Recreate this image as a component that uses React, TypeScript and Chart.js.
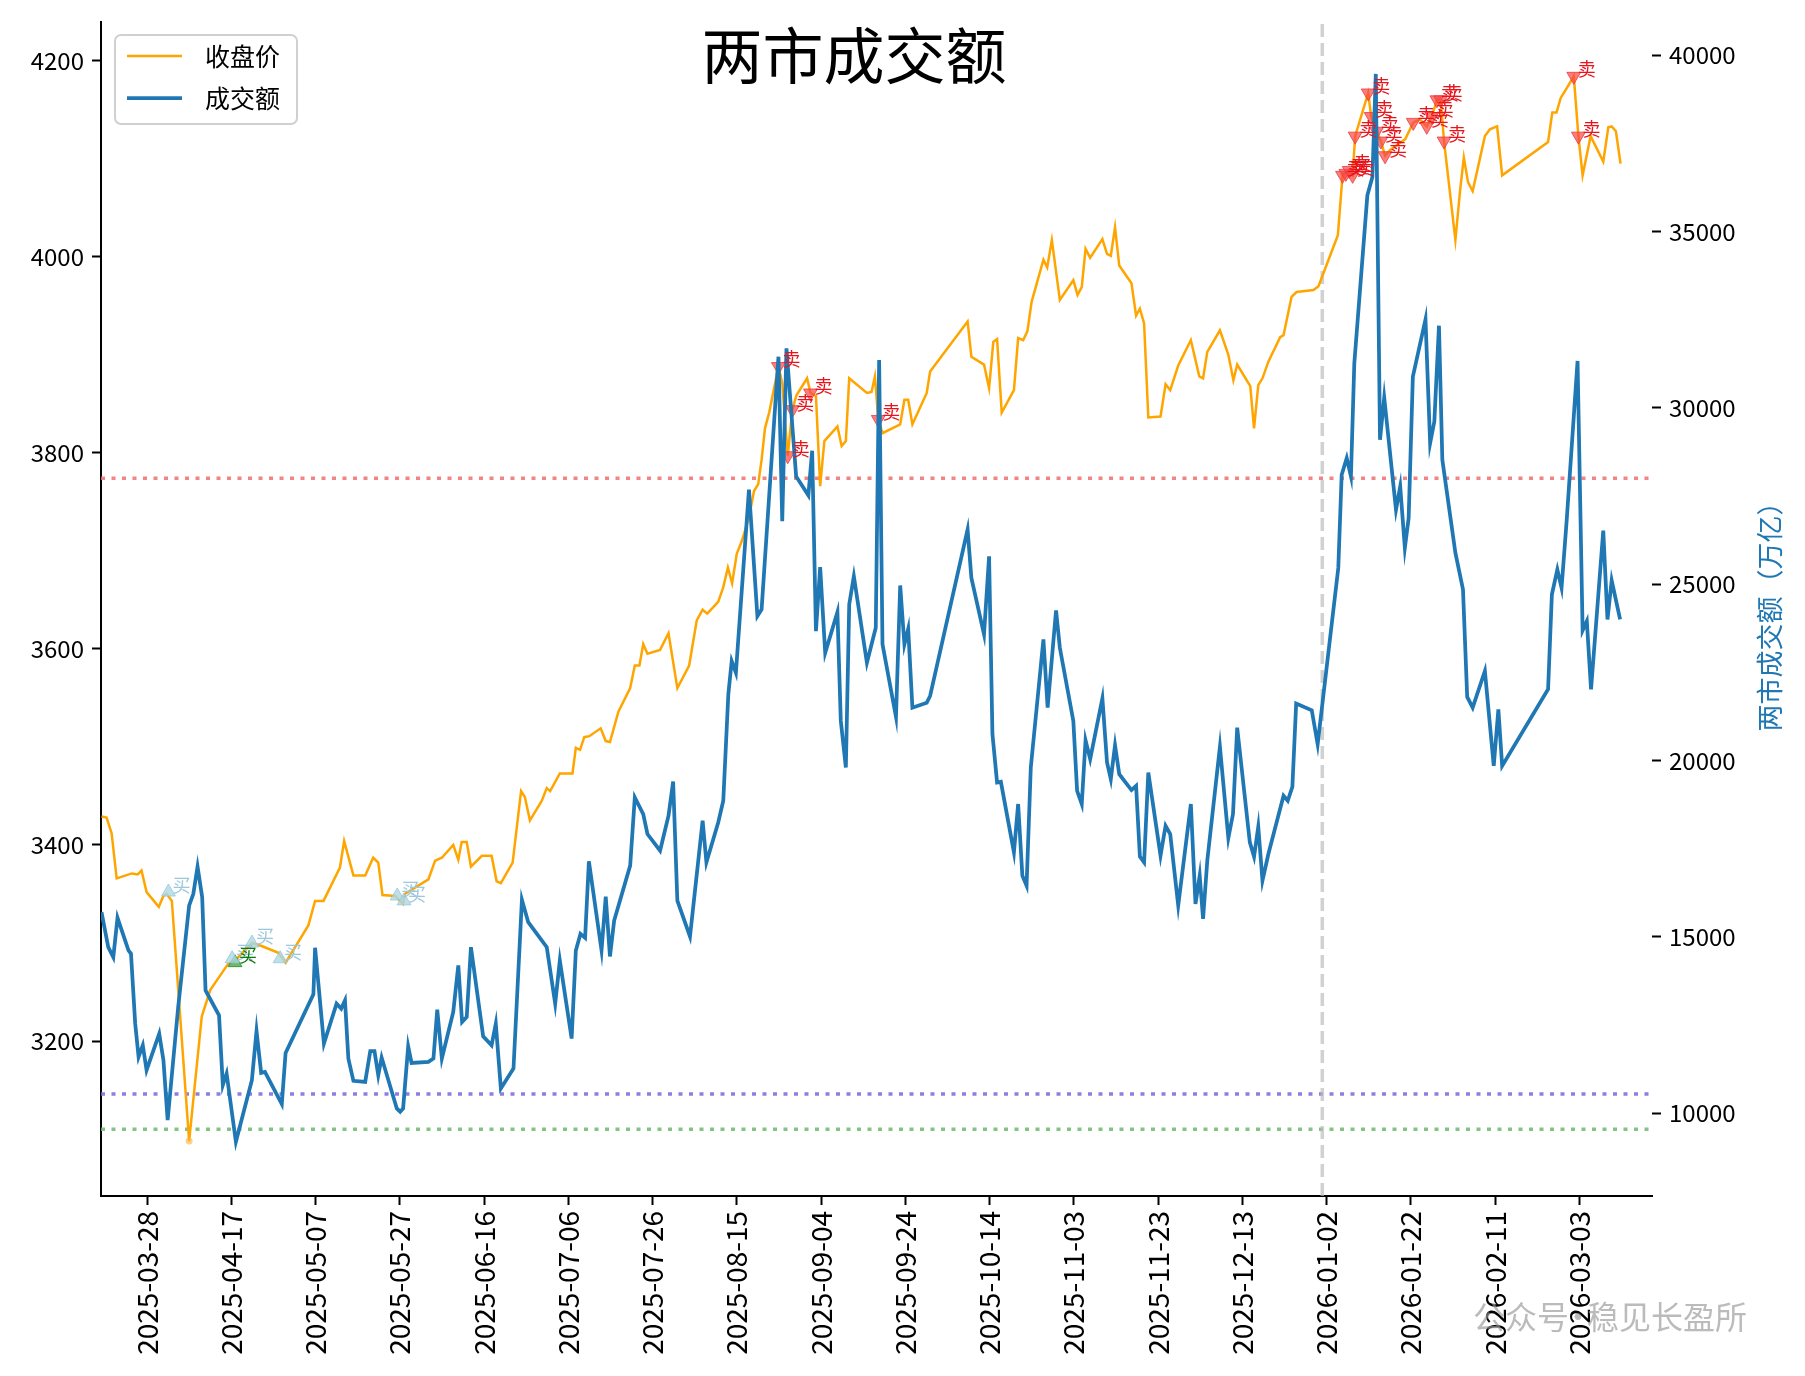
import React, { useEffect, useRef } from "react";
import { Chart, registerables } from "chart.js";

Chart.register(...registerables);

const FONT = '"Noto Sans CJK SC", "Noto Sans", sans-serif';

// x values are day offsets counted from 2025-01-01
const xTickDays = [86, 106, 126, 146, 166, 186, 206, 226, 246, 266, 286, 306, 326, 346, 366, 386, 406, 426];
const leftTicks = [3200, 3400, 3600, 3800, 4000, 4200];
const rightTicks = [10000, 15000, 20000, 25000, 30000, 35000, 40000];

const priceDays = [
  75.2, 76.4, 77.6, 78.8, 82.4, 83.8, 84.7, 85.9, 88.8, 89.9, 90.7, 91.9, 96.0, 99.0, 101.0, 102.9,
  105.3, 106.9, 110.9, 113.2, 117.2, 118.9, 124.3, 125.9, 127.9, 131.8, 132.8, 135.0, 137.8, 139.7,
  140.9, 141.9, 144.9, 146.8, 147.2, 152.8, 154.4, 156.0, 158.7, 159.9, 160.7, 161.9, 162.9, 165.5,
  167.8, 169.0, 170.0, 172.8, 174.8, 175.7, 176.9, 179.7, 180.9, 181.7, 184.0, 187.0, 187.8, 188.8,
  189.8, 191.0, 193.7, 194.9, 195.9, 197.9, 200.7, 201.8, 202.9, 203.8, 204.8, 207.8, 209.8, 211.9,
  214.7, 216.5, 217.9, 219.0, 221.6, 222.8, 223.9, 224.9, 226.0, 227.2, 228.9, 230.1, 231.1, 231.9,
  232.7, 233.7, 235.9, 236.8, 238.1, 239.2, 240.2, 242.7, 243.5, 244.8, 245.8, 246.8, 249.9, 250.9,
  251.9, 252.7, 256.9, 258.0, 258.8, 259.6, 260.6, 264.8, 265.8, 266.7, 267.7, 271.1, 271.9, 280.8,
  281.7, 284.7, 285.9, 286.9, 287.8, 288.9, 291.8, 292.8, 294.0, 295.0, 296.0, 298.8, 299.7, 300.8,
  302.7, 305.9, 306.9, 307.9, 308.8, 309.9, 312.8, 313.9, 314.8, 315.8, 316.8, 319.7, 320.8, 321.7,
  322.7, 323.7, 326.6, 327.8, 328.9, 330.8, 333.8, 335.8, 336.7, 337.7, 340.7, 342.7, 343.9, 344.8,
  347.9, 348.8, 349.8, 350.8, 352.2, 355.0, 355.8, 357.7, 358.9, 362.9, 364.1, 368.7, 369.8, 371.2,
  372.2, 372.8, 375.9, 376.6, 377.9, 378.9, 379.9, 381.1, 383.1, 384.7, 386.6, 388.2, 389.8, 391.0,
  392.2, 393.1, 393.9, 396.6, 397.7, 398.6, 399.6, 400.7, 403.6, 404.8, 406.5, 407.7, 418.6, 419.6,
  420.6, 421.6, 422.6, 424.7, 425.8, 426.8, 428.7, 431.7, 432.9, 433.7, 434.7, 435.8,
];
const priceVals = [
  3429, 3428, 3412, 3366, 3371, 3370, 3374, 3352, 3337, 3348, 3350, 3343, 3098, 3225, 3252, 3264,
  3279, 3282, 3300, 3297, 3290, 3280, 3318, 3343, 3343, 3377, 3404, 3369, 3369, 3387,
  3382, 3349, 3348, 3340, 3350, 3365, 3384, 3387, 3400, 3385, 3403, 3403, 3378, 3389,
  3389, 3363, 3361, 3382, 3455, 3449, 3425, 3445, 3458, 3455, 3473, 3473, 3499, 3497,
  3510, 3511, 3519, 3506, 3505, 3536, 3560, 3583, 3583, 3605, 3595, 3599, 3616, 3560,
  3583, 3629, 3640, 3636, 3648, 3663, 3683, 3667, 3697, 3710, 3734, 3761, 3768, 3793,
  3825, 3841, 3888, 3871, 3797, 3844, 3859, 3876, 3861, 3858, 3766, 3812, 3827, 3807,
  3812, 3876, 3861, 3862, 3878, 3834, 3820, 3829, 3854, 3854, 3829, 3861, 3883, 3934,
  3898, 3890, 3866, 3913, 3916, 3841, 3864, 3917, 3915, 3924, 3954, 3997, 3989, 4017,
  3956, 3976, 3961, 3969, 4008, 3999, 4018, 4003, 4001, 4030, 3991, 3973, 3940, 3947,
  3932, 3836, 3837, 3870, 3864, 3889, 3915, 3878, 3876, 3903, 3925, 3900, 3874, 3890,
  3868, 3825, 3869, 3876, 3893, 3918, 3920, 3959, 3964, 3966, 3970, 4022, 4083, 4088,
  4083, 4123, 4167, 4143, 4128, 4118, 4103, 4109, 4115, 4120, 4137, 4140, 4133, 4143,
  4160, 4160, 4118, 4017, 4067, 4101, 4076, 4067, 4123, 4130, 4133, 4083, 4117, 4147,
  4147, 4162, 4169, 4184, 4123, 4083, 4123, 4097, 4132, 4133, 4128, 4095,
];

const volumeDays = [
  75.2, 76.8, 78.0, 79.0, 81.6, 82.2, 83.2, 84.0, 85.0, 85.9, 88.9, 89.9, 90.9, 93.4, 96.0, 97.0,
  98.0, 99.1, 99.9, 103.1, 104.0, 104.9, 107.1, 110.9, 112.0, 113.1, 114.0, 118.0, 118.9, 125.5,
  125.9, 128.0, 131.0, 132.1, 133.0, 133.8, 135.0, 137.8, 139.0, 140.0, 140.9, 141.7, 145.3, 146.1,
  146.8, 148.0, 148.8, 152.8, 154.0, 154.9, 156.0, 158.7, 159.9, 160.8, 161.9, 162.9, 165.8, 167.8,
  168.8, 170.0, 173.0, 175.0, 176.5, 180.9, 182.9, 184.0, 186.8, 187.8, 188.9, 190.0, 190.9, 193.9,
  194.9, 195.9, 196.9, 200.7, 201.8, 203.8, 204.8, 207.8, 209.8, 210.9, 211.9, 214.9, 217.9, 218.8,
  221.6, 222.8, 224.0, 224.8, 225.8, 228.9, 230.9, 231.9, 235.9, 236.8, 237.8, 240.1, 243.0, 243.9,
  244.8, 245.8, 247.0, 249.9, 250.7, 251.9, 252.7, 253.8, 256.9, 259.0, 259.8, 260.6, 263.8, 264.8,
  265.8, 266.7, 267.7, 271.1, 271.9, 280.8, 281.7, 284.7, 285.9, 286.7, 287.8, 288.7, 291.8, 292.8,
  293.8, 294.8, 295.8, 298.8, 299.8, 301.8, 302.7, 305.9, 306.8, 307.9, 308.8, 309.9, 312.8, 313.9,
  314.8, 315.8, 316.8, 319.7, 320.8, 321.7, 322.7, 323.7, 326.6, 327.8, 328.9, 330.8, 333.8, 334.9,
  335.9, 336.7, 337.7, 340.7, 342.7, 343.8, 344.8, 347.8, 348.8, 349.8, 350.8, 352.2, 355.8, 356.8,
  357.9, 358.8, 362.5, 363.9, 368.8, 369.6, 370.8, 371.8, 372.6, 375.7, 376.9, 377.7, 378.7, 379.7,
  382.5, 383.5, 384.6, 385.5, 386.5, 389.5, 390.6, 391.6, 392.7, 393.5, 396.6, 398.4, 399.4, 400.7,
  403.6, 405.7, 406.8, 407.7, 418.6, 419.5, 420.8, 421.8, 423.0, 425.6, 426.8, 427.8, 428.8, 431.7,
  432.7, 433.7, 435.7,
];
const volumeVals = [
  15697, 14706, 14423, 15538, 14613, 14519, 12538, 11593, 11924, 11217, 12255, 11500, 9802, 13008, 15886, 16217,
  16990, 16121, 13481, 12773, 10792, 11123, 9188, 10934, 12330, 11142, 11170, 10255, 11707, 13368,
  14689, 11972, 13104, 12963, 13198, 11548, 10915, 10886, 11755, 11755, 11075, 11576, 10133, 10037,
  10133, 11896, 11424, 11452, 11548, 12935, 11548, 12869, 14188, 12584, 12725, 14706, 12179, 11924,
  12538, 10699, 11265, 16048, 15414, 14706, 13104, 14330, 12114, 14613, 15086, 14972, 17140, 14613,
  16141, 14443, 15462, 17018, 18951, 18481, 17915, 17443, 18433, 19404, 16028, 15009, 18292, 17112,
  18243, 18858, 21877, 22820, 22489, 27679, 24093, 24282, 31451, 26782, 31687, 28055, 27518, 28783,
  23669, 25480, 23055, 24207, 21122, 19800, 24424, 25225, 22772, 23762, 31357, 23292, 21235, 24962,
  23292, 23734, 21498, 21640, 21829, 26547, 25178, 23575, 25791, 20745, 19376, 19396, 17395, 18765,
  16735, 16452, 19800, 23434, 21499, 24255, 23197, 21122, 19141, 18765, 20576, 20038, 21764, 19942,
  19472, 20434, 19613, 19161, 19282, 17273, 17112, 19659, 17302, 18150, 17915, 15886, 18765, 15934,
  16735, 15510, 17160, 20386, 17802, 18481, 20933, 17678, 17273, 18122, 16594, 17349, 19000, 18858,
  19254, 21612, 21425, 20463, 25460, 28103, 28574, 28055, 31262, 36027, 36545, 39469, 29093, 30291,
  27113, 27772, 26027, 26876, 30885, 32507, 28998, 29612, 32329, 28527, 25885, 24849, 21801, 21499,
  22537, 19848, 21452, 19848, 22019, 24707, 25415, 24894, 26782, 31329, 23689, 23952, 22019, 26519,
  24000, 25103, 24000,
];

const sellDays = [235.9, 238.1, 239.2, 243.5, 259.6, 369.8, 370.6, 371.4, 372.2, 372.8, 375.9, 376.6, 377.9, 378.9, 379.9, 386.6, 389.8, 391.0, 392.2, 393.1, 393.9, 424.7, 425.8];
const sellVals = [3888, 3797, 3844, 3861, 3834, 4083, 4085, 4088, 4083, 4123, 4167, 4143, 4128, 4118, 4103, 4137, 4133, 4143, 4160, 4160, 4118, 4184, 4123];
const buyBlueDays = [91.1, 106.2, 110.9, 117.6, 145.4, 147.0];
const buyBlueVals = [3352, 3284, 3300, 3284, 3348, 3343];
const buyGreenDays = [106.9];
const buyGreenVals = [3280];
const lowDays = [96.0];
const lowVals = [3098];

const hLineVals = [3774, 3146, 3110];
const hLineColors = ["rgba(240,110,110,0.85)", "rgba(120,105,220,0.85)", "rgba(110,185,110,0.85)"];
const splitDays = [365];

const X_MIN = 75.08;
const X_MAX = 443.27;
const Y_MIN = 3042;
const Y_MAX = 4239;
const Y2_MIN = 7650;
const Y2_MAX = 40930;

const pts = (xs: number[], ys: number[]) => xs.map((x, i) => ({ x, y: ys[i] }));
const fmtDay = (d: number) => new Date(Date.UTC(2025, 0, 1) + Math.round(d) * 86400000).toISOString().slice(0, 10);

const overlayPlugin = {
  id: "overlay",
  afterDatasetsDraw(chart: any) {
    const { ctx, scales } = chart;
    const xs = scales.x;
    const ys = scales.y;
    ctx.save();
    ctx.font = `18px ${FONT}`;
    ctx.textAlign = "left";
    ctx.textBaseline = "bottom";
    ctx.fillStyle = "#e8141c";
    sellDays.forEach((d, i) => ctx.fillText("卖", xs.getPixelForValue(d) + 4, ys.getPixelForValue(sellVals[i]) + 2));
    ctx.fillStyle = "#9cc8dc";
    buyBlueDays.forEach((d, i) => ctx.fillText("买", xs.getPixelForValue(d) + 4, ys.getPixelForValue(buyBlueVals[i]) + 2));
    ctx.fillStyle = "#0a7a0a";
    buyGreenDays.forEach((d, i) => ctx.fillText("买", xs.getPixelForValue(d) + 4, ys.getPixelForValue(buyGreenVals[i]) + 2));
    ctx.restore();
  },
  afterDraw(chart: any) {
    const { ctx } = chart;
    ctx.save();
    // title
    ctx.fillStyle = "#000";
    ctx.font = `61px ${FONT}`;
    ctx.textAlign = "center";
    ctx.textBaseline = "middle";
    ctx.fillText("两市成交额", 854, 56);
    // legend
    const bx = 115, by = 35, bw = 182, bh = 89, r = 6;
    ctx.beginPath();
    ctx.moveTo(bx + r, by);
    ctx.arcTo(bx + bw, by, bx + bw, by + bh, r);
    ctx.arcTo(bx + bw, by + bh, bx, by + bh, r);
    ctx.arcTo(bx, by + bh, bx, by, r);
    ctx.arcTo(bx, by, bx + bw, by, r);
    ctx.closePath();
    ctx.fillStyle = "rgba(255,255,255,0.8)";
    ctx.fill();
    ctx.strokeStyle = "#d0d0d0";
    ctx.lineWidth = 2;
    ctx.stroke();
    ctx.lineWidth = 2.5;
    ctx.strokeStyle = "#FFA500";
    ctx.beginPath();
    ctx.moveTo(127, 56);
    ctx.lineTo(182, 56);
    ctx.stroke();
    ctx.lineWidth = 3.75;
    ctx.strokeStyle = "#1f77b4";
    ctx.beginPath();
    ctx.moveTo(127, 98);
    ctx.lineTo(182, 98);
    ctx.stroke();
    ctx.fillStyle = "#000";
    ctx.font = `25px ${FONT}`;
    ctx.textAlign = "left";
    ctx.textBaseline = "middle";
    ctx.fillText("收盘价", 205, 56);
    ctx.fillText("成交额", 205, 98);
    // right axis label
    ctx.save();
    ctx.translate(1770, 610);
    ctx.rotate(-Math.PI / 2);
    ctx.fillStyle = "#1f77b4";
    ctx.font = `27px ${FONT}`;
    ctx.textAlign = "center";
    ctx.textBaseline = "middle";
    ctx.fillText("两市成交额（万亿）", 0, 0);
    ctx.restore();
    // watermark
    ctx.fillStyle = "rgba(150,150,150,0.65)";
    ctx.font = `32px ${FONT}`;
    ctx.textAlign = "left";
    ctx.textBaseline = "middle";
    ctx.fillText("公众号", 1473, 1317);
    ctx.textAlign = "center";
    ctx.fillText("·", 1578, 1317);
    ctx.textAlign = "left";
    ctx.fillText("稳见长盈所", 1587, 1317);
    ctx.restore();
  },
};

export default function App() {
  const ref = useRef<HTMLCanvasElement | null>(null);
  useEffect(() => {
    if (!ref.current) return;
    const tickFontY = { family: FONT, size: 24 };
    const chart = new Chart(ref.current, {
      type: "line",
      data: {
        datasets: [
          ...hLineVals.map((v, i) => ({
            label: "h" + i,
            data: [{ x: X_MIN, y: v }, { x: X_MAX, y: v }],
            borderColor: hLineColors[i],
            borderWidth: 3.5,
            borderDash: [4, 6.5],
            pointRadius: 0,
            yAxisID: "y",
            order: 10,
          })),
          {
            label: "split",
            data: splitDays.flatMap((d) => [{ x: d, y: Y_MIN }, { x: d, y: Y_MAX }]),
            borderColor: "rgba(190,190,190,0.7)",
            borderWidth: 3.5,
            borderDash: [13, 6],
            pointRadius: 0,
            yAxisID: "y",
            order: 9,
          },
          {
            label: "收盘价",
            data: pts(priceDays, priceVals),
            borderColor: "#FFA500",
            borderWidth: 2.5,
            pointRadius: 0,
            tension: 0,
            yAxisID: "y",
            order: 6,
          },
          {
            label: "sell",
            data: pts(sellDays, sellVals),
            showLine: false,
            pointStyle: "triangle",
            rotation: 180,
            pointRadius: 8,
            backgroundColor: "rgba(250,70,70,0.7)",
            borderColor: "rgba(235,60,60,0.8)",
            borderWidth: 1,
            yAxisID: "y",
            order: 5,
          },
          {
            label: "buyBlue",
            data: pts(buyBlueDays, buyBlueVals),
            showLine: false,
            pointStyle: "triangle",
            pointRadius: 8,
            backgroundColor: "rgba(173,216,230,0.8)",
            borderColor: "rgba(150,200,220,0.8)",
            borderWidth: 1,
            yAxisID: "y",
            order: 5,
          },
          {
            label: "buyGreen",
            data: pts(buyGreenDays, buyGreenVals),
            showLine: false,
            pointStyle: "triangle",
            pointRadius: 8,
            backgroundColor: "rgba(60,160,60,0.75)",
            borderColor: "rgba(40,140,40,0.8)",
            borderWidth: 1,
            yAxisID: "y",
            order: 5,
          },
          {
            label: "low",
            data: pts(lowDays, lowVals),
            showLine: false,
            pointStyle: "circle",
            pointRadius: 3.5,
            backgroundColor: "rgba(255,180,60,0.6)",
            borderWidth: 0,
            yAxisID: "y",
            order: 5,
          },
          {
            label: "成交额",
            data: pts(volumeDays, volumeVals),
            borderColor: "#1f77b4",
            borderWidth: 3.75,
            pointRadius: 0,
            tension: 0,
            yAxisID: "y2",
            order: 1,
          },
        ],
      },
      options: {
        responsive: false,
        animation: false,
        devicePixelRatio: 1,
        layout: { padding: { top: 20, left: 0, right: 0, bottom: 0 } },
        plugins: { legend: { display: false }, tooltip: { enabled: false }, title: { display: false } },
        scales: {
          x: {
            type: "linear",
            min: X_MIN,
            max: X_MAX,
            afterBuildTicks: (s: any) => {
              s.ticks = xTickDays.map((v) => ({ value: v }));
            },
            afterFit: (s: any) => {
              s.height = 180;
            },
            ticks: {
              autoSkip: false,
              maxRotation: 90,
              minRotation: 90,
              padding: 6,
              color: "#000",
              font: { family: FONT, size: 28 },
              callback: (v: any) => fmtDay(Number(v)),
            },
            grid: { display: true, drawOnChartArea: false, drawTicks: true, tickLength: 9, tickWidth: 2, tickColor: "#000" },
            border: { display: true, color: "#000", width: 2 },
          },
          y: {
            type: "linear",
            position: "left",
            min: Y_MIN,
            max: Y_MAX,
            afterBuildTicks: (s: any) => {
              s.ticks = leftTicks.map((v) => ({ value: v }));
            },
            afterFit: (s: any) => {
              s.width = 101;
            },
            ticks: { padding: 8, color: "#000", font: tickFontY, callback: (v: any) => String(v) },
            grid: { display: true, drawOnChartArea: false, drawTicks: true, tickLength: 9, tickWidth: 2, tickColor: "#000" },
            border: { display: true, color: "#000", width: 2 },
          },
          y2: {
            type: "linear",
            position: "right",
            min: Y2_MIN,
            max: Y2_MAX,
            afterBuildTicks: (s: any) => {
              s.ticks = rightTicks.map((v) => ({ value: v }));
            },
            afterFit: (s: any) => {
              s.width = 153;
            },
            ticks: { padding: 8, color: "#000", font: tickFontY, callback: (v: any) => String(v) },
            grid: { display: true, drawOnChartArea: false, drawTicks: true, tickLength: 9, tickWidth: 2, tickColor: "#000" },
            border: { display: false },
          },
        },
      },
      plugins: [overlayPlugin],
    } as any);
    return () => chart.destroy();
  }, []);
  return (
    <div style={{ position: "absolute", left: 0, top: 0, width: 1805, height: 1376, background: "#fff" }}>
      <canvas ref={ref} width={1805} height={1376} style={{ width: 1805, height: 1376, display: "block" }} />
    </div>
  );
}
